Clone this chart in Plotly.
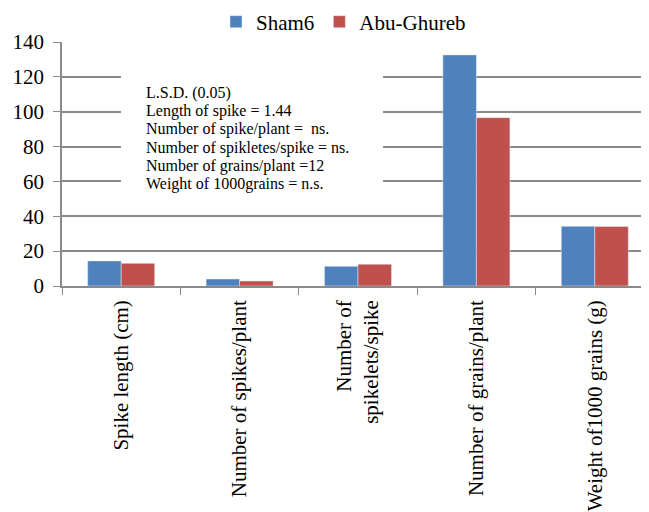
import plotly.graph_objects as go

categories = ["Spike length (cm)", "Number of spikes/plant", "Number of<br>spikelets/spike",
              "Number of grains/plant", "Weight of1000 grains (g)"]
sham6 = [14.4, 4.0, 11.3, 132.6, 34.3]
abu_ghureb = [13.0, 2.9, 12.5, 96.6, 34.1]
series_names = ["Sham6", "Abu-Ghureb"]
lsd_lines = ["L.S.D. (0.05)", "Length of spike = 1.44", "Number of spike/plant =  ns.",
             "Number of spikletes/spike = ns.", "Number of grains/plant =12",
             "Weight of 1000grains = n.s."]

FONT = "Liberation Serif"
OFF = 8  # page body margin
W, H = 649, 512
ML, MR, MT, MB = 54, 3, 34, 234
PW, PH = W - ML - MR, H - MT - MB

def px_x(p):
    return (p - OFF - ML) / PW

def px_y(p):
    return (H - MB - (p - OFF)) / PH

fig = go.Figure()
fig.add_trace(go.Bar(x=categories, y=sham6, name=series_names[0], marker_color="#4F81BD"))
fig.add_trace(go.Bar(x=categories, y=abu_ghureb, name=series_names[1], marker_color="#C0504D"))

fig.add_shape(type="rect", xref="paper", yref="paper",
              x0=px_x(121), x1=px_x(383), y0=px_y(214), y1=px_y(68),
              fillcolor="white", line_width=0, layer="above")

for i, t in enumerate(lsd_lines):
    fig.add_annotation(text=t, xref="paper", yref="paper", x=px_x(144),
                       y=px_y(92.7 + i * 18.27), xanchor="left", yanchor="middle",
                       showarrow=False, font=dict(family=FONT, size=16, color="black"))

fig.update_layout(
    width=W, height=H,
    margin=dict(l=ML, r=MR, t=MT, b=MB, pad=0, autoexpand=False),
    paper_bgcolor="white", plot_bgcolor="white",
    barmode="group", bargap=0.434, bargroupgap=0,
    font=dict(family=FONT, size=21, color="black"),
    showlegend=True,
    legend=dict(orientation="h", xref="container", yref="container",
                x=208 / W, y=1 - 14 / H, xanchor="left", yanchor="middle",
                font=dict(family=FONT, size=21, color="black"), bgcolor="rgba(0,0,0,0)",
                itemclick=False, itemwidth=30),
    xaxis=dict(range=[-0.5, 4.5], tickangle=-90, tickson="boundaries",
               ticks="outside", ticklen=7, tickcolor="#8a8a8a", showline=True,
               linecolor="#8a8a8a", linewidth=1.5, showgrid=False, automargin=False,
               ticklabelstandoff=4,
               tickfont=dict(family=FONT, size=21, color="black")),
    yaxis=dict(range=[0, 140], dtick=20, ticks="outside", ticklen=7, tickcolor="#8a8a8a",
               showline=True, linecolor="#8a8a8a", linewidth=1.5, showgrid=True,
               gridcolor="#8a8a8a", gridwidth=1.5, zeroline=False, automargin=False,
               ticklabelstandoff=5,
               tickfont=dict(family=FONT, size=21, color="black")),
)

fig.write_html("out.html")
